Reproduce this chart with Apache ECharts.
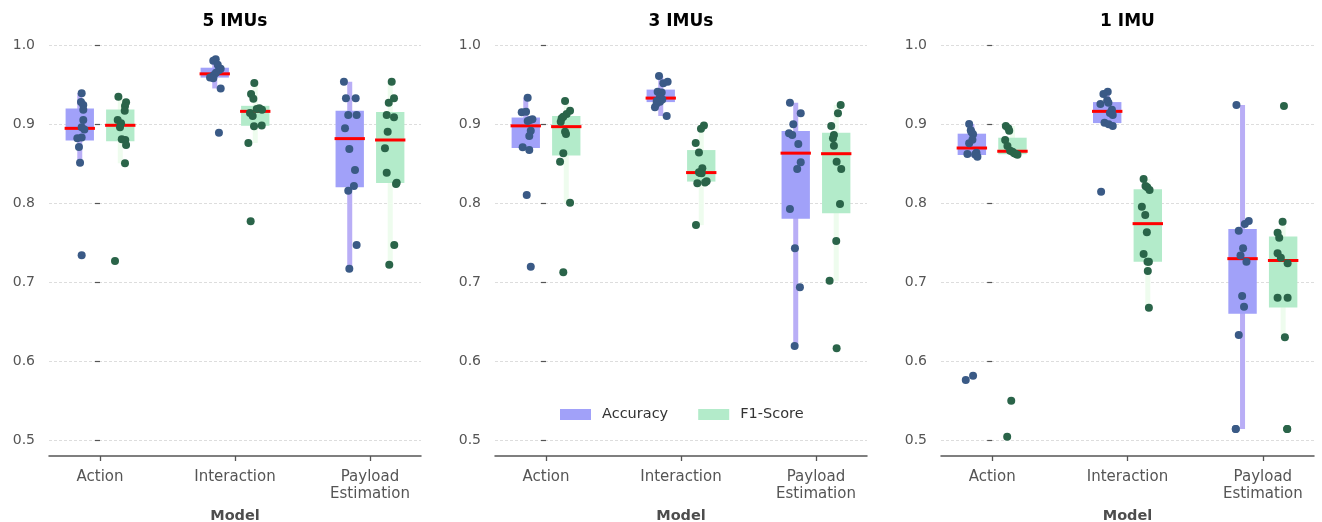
<!DOCTYPE html>
<html>
<head>
<meta charset="utf-8">
<script src="https://cdn.jsdelivr.net/npm/echarts@6/dist/echarts.min.js"></script>
<style>html,body{margin:0;padding:0;background:#fff;}#c{width:1322px;height:522px;}</style>
</head>
<body>
<div id="c"></div>
<script>
// ---------- data ----------
const CATEGORIES = ['Action', 'Interaction', 'Payload\nEstimation'];
const PANELS = ['5 IMUs', '3 IMUs', '1 IMU'];
const METRICS = ['Accuracy', 'F1-Score'];
const Y_TICKS = [0.5, 0.6, 0.7, 0.8, 0.9, 1.0];

// values per category: [Action, Interaction, Payload Estimation]
const acc5 = [
  [0.939, 0.928, 0.924, 0.918, 0.905, 0.896, 0.893, 0.882, 0.883, 0.871, 0.851, 0.734],
  [0.982, 0.980, 0.975, 0.970, 0.968, 0.965, 0.962, 0.960, 0.959, 0.958, 0.945, 0.889],
  [0.9536, 0.9325, 0.9325, 0.9114, 0.9114, 0.8946, 0.8684, 0.8418, 0.8215, 0.8156, 0.7468, 0.7168]
];
const f1_5 = [
  [0.9346, 0.9275, 0.9228, 0.9169, 0.905, 0.9009, 0.8958, 0.8806, 0.8797, 0.8734, 0.8503, 0.7266],
  [0.952, 0.938, 0.932, 0.920, 0.919, 0.918, 0.914, 0.910, 0.898, 0.897, 0.876, 0.777],
  [0.9536, 0.9325, 0.927, 0.9114, 0.9085, 0.8903, 0.8692, 0.8384, 0.8257, 0.8241, 0.7468, 0.7219]
];
const acc3 = [
  [0.9333, 0.9148, 0.9156, 0.905, 0.906, 0.9038, 0.8915, 0.8848, 0.8705, 0.8671, 0.8101, 0.7194],
  [0.9608, 0.9515, 0.9536, 0.9409, 0.940, 0.9346, 0.9283, 0.926, 0.9211, 0.9101, 0.931, 0.929],
  [0.927, 0.9135, 0.8996, 0.8882, 0.8861, 0.8747, 0.8515, 0.843, 0.7924, 0.7427, 0.6933, 0.619]
];
const f1_3 = [
  [0.9291, 0.9169, 0.9127, 0.9072, 0.903, 0.8903, 0.8873, 0.8629, 0.8523, 0.8004, 0.7123, 0.9093],
  [0.898, 0.894, 0.876, 0.864, 0.844, 0.839, 0.838, 0.8376, 0.8275, 0.826, 0.825, 0.772],
  [0.924, 0.9135, 0.8975, 0.8861, 0.8819, 0.8725, 0.8523, 0.843, 0.7987, 0.7519, 0.7017, 0.616]
];
const acc1 = [
  [0.900, 0.892, 0.890, 0.887, 0.880, 0.8755, 0.8637, 0.862, 0.8615, 0.8585, 0.5814, 0.576],
  [0.9409, 0.938, 0.930, 0.927, 0.9253, 0.918, 0.914, 0.9114, 0.9017, 0.8996, 0.8975, 0.8143],
  [0.924, 0.7772, 0.7734, 0.765, 0.7427, 0.7334, 0.7257, 0.6823, 0.6688, 0.6329, 0.5139, 0.5139]
];
const f1_1 = [
  [0.8975, 0.8946, 0.8915, 0.8797, 0.872, 0.866, 0.865, 0.863, 0.862, 0.861, 0.5498, 0.5042],
  [0.8304, 0.8215, 0.8199, 0.8165, 0.7954, 0.7848, 0.7629, 0.7354, 0.7257, 0.7257, 0.7139, 0.6675],
  [0.9228, 0.7763, 0.7624, 0.756, 0.7363, 0.7308, 0.7237, 0.6801, 0.6801, 0.63, 0.5139, 0.5139]
];

// strip-plot jitter (category units, relative to category centre)
const jAcc5 = [
  [-0.136, -0.141, -0.124, -0.124, -0.124, -0.136, -0.116, -0.168, -0.136, -0.156, -0.148, -0.136],
  [-0.143, -0.161, -0.128, -0.106, -0.119, -0.141, -0.156, -0.165, -0.185, -0.161, -0.106, -0.119],
  [-0.193, -0.178, -0.106, -0.161, -0.099, -0.185, -0.153, -0.111, -0.119, -0.161, -0.099, -0.153]
];
const jF1_5 = [
  [0.136, 0.193, 0.185, 0.183, 0.131, 0.156, 0.148, 0.161, 0.187, 0.193, 0.185, 0.111],
  [0.143, 0.119, 0.136, 0.180, 0.161, 0.200, 0.111, 0.131, 0.198, 0.141, 0.099, 0.116],
  [0.161, 0.178, 0.139, 0.124, 0.178, 0.131, 0.111, 0.124, 0.198, 0.193, 0.180, 0.143]
];
const jAcc3 = [
  [-0.136, -0.180, -0.148, -0.119, -0.101, -0.136, -0.113, -0.124, -0.173, -0.124, -0.143, -0.113],
  [-0.163, -0.131, -0.099, -0.173, -0.143, -0.156, -0.156, -0.180, -0.193, -0.106, -0.139, -0.180],
  [-0.193, -0.113, -0.168, -0.200, -0.176, -0.131, -0.113, -0.139, -0.193, -0.156, -0.119, -0.158]
];
const jF1_3 = [
  [0.141, 0.178, 0.153, 0.116, 0.109, 0.141, 0.148, 0.128, 0.104, 0.178, 0.128, 0.128],
  [0.170, 0.148, 0.109, 0.133, 0.158, 0.133, 0.141, 0.153, 0.190, 0.178, 0.121, 0.111],
  [0.183, 0.163, 0.113, 0.133, 0.126, 0.133, 0.153, 0.187, 0.178, 0.150, 0.101, 0.153]
];
const jAcc1 = [
  [-0.170, -0.158, -0.153, -0.141, -0.146, -0.170, -0.116, -0.183, -0.126, -0.109, -0.141, -0.195],
  [-0.146, -0.178, -0.150, -0.141, -0.200, -0.115, -0.130, -0.109, -0.170, -0.139, -0.109, -0.195],
  [-0.195, -0.104, -0.133, -0.178, -0.146, -0.165, -0.121, -0.153, -0.139, -0.178, -0.200, -0.200]
];
const jF1_1 = [
  [0.101, 0.119, 0.126, 0.096, 0.113, 0.133, 0.150, 0.163, 0.176, 0.187, 0.141, 0.111],
  [0.119, 0.133, 0.146, 0.163, 0.106, 0.131, 0.143, 0.119, 0.158, 0.148, 0.150, 0.158],
  [0.156, 0.146, 0.109, 0.121, 0.109, 0.133, 0.183, 0.109, 0.183, 0.163, 0.180, 0.180]
];

const PANEL_VALUES = [[acc5, f1_5], [acc3, f1_3], [acc1, f1_1]];
const PANEL_JITTER = [[jAcc5, jF1_5], [jAcc3, jF1_3], [jAcc1, jF1_1]];

// ---------- styles ----------
const FONT = 'DejaVu Sans';
const BOX_COLORS = ['#a1a1f9', '#b3ebca'];
const WHISKER_COLORS = ['#b9aef6', '#eefcee'];
const POINT_COLORS = ['#3a5a86', '#2a6449'];
const MEDIAN_COLOR = '#ff0000';
const HUE_OFFSET = 0.15;
const BOX_HALF = 0.105;
const GRIDS = [
  {left: 49, top: 45, width: 372, height: 395},
  {left: 495, top: 45, width: 372, height: 395},
  {left: 941, top: 45, width: 373, height: 395}
];

// ---------- stats ----------
function quantile(s, p) {
  const pos = (s.length - 1) * p, lo = Math.floor(pos), hi = Math.ceil(pos);
  return s[lo] + (s[hi] - s[lo]) * (pos - lo);
}
function boxStats(vals) {
  const s = vals.slice().sort((a, b) => a - b);
  const q1 = quantile(s, 0.25), med = quantile(s, 0.5), q3 = quantile(s, 0.75);
  const iqr = q3 - q1;
  const lo = s.filter(v => v >= q1 - 1.5 * iqr)[0];
  const inHi = s.filter(v => v <= q3 + 1.5 * iqr);
  const hi = inHi[inHi.length - 1];
  return [lo, q1, med, q3, hi];
}

function makeRender(hue) {
  return function (params, api) {
    const cat = api.value(0);
    const lo = api.value(2), q1 = api.value(3), med = api.value(4), q3 = api.value(5), hi = api.value(6);
    const cx = cat + (hue ? HUE_OFFSET : -HUE_OFFSET);
    const tl = api.coord([cx - BOX_HALF, q3]);
    const br = api.coord([cx + BOX_HALF, q1]);
    const wTop = api.coord([cx, hi]);
    const wBot = api.coord([cx, lo]);
    const m = api.coord([cx, med]);
    return {
      type: 'group',
      children: [
        {type: 'rect', shape: {x: wTop[0] - 2.5, y: wTop[1], width: 5, height: wBot[1] - wTop[1]},
         style: {fill: WHISKER_COLORS[hue]}},
        {type: 'rect', shape: {x: tl[0], y: tl[1], width: br[0] - tl[0], height: br[1] - tl[1]},
         style: {fill: BOX_COLORS[hue]}},
        {type: 'line', shape: {x1: tl[0] - 1, y1: m[1], x2: br[0] + 1, y2: m[1]},
         style: {stroke: MEDIAN_COLOR, lineWidth: 3}}
      ]
    };
  };
}

const xAxes = [], yAxes = [], series = [], titles = [];
PANELS.forEach((title, p) => {
  const g = GRIDS[p];
  titles.push({
    text: title, left: g.left + g.width / 2, top: 13, textAlign: 'center', padding: 0,
    textStyle: {fontFamily: FONT, fontSize: 17, fontWeight: 'bold', color: '#000'}
  });
  titles.push({
    text: 'Model', left: g.left + g.width / 2, top: 509, textAlign: 'center', padding: 0,
    textStyle: {fontFamily: FONT, fontSize: 14.5, fontWeight: 'bold', color: '#4d4d4d'}
  });
  xAxes.push({
    type: 'value', gridIndex: p, min: -0.378, max: 2.378, offset: 16,
    axisLine: {show: true, lineStyle: {color: '#555555', width: 1.5}},
    axisTick: {show: true, customValues: [0, 1, 2], length: 5, lineStyle: {color: '#555555', width: 1.3}},
    axisLabel: {
      show: true, customValues: [0, 1, 2], margin: 13,
      formatter: v => CATEGORIES[Math.round(v)],
      fontFamily: FONT, fontSize: 15, color: '#555555', lineHeight: 17
    },
    splitLine: {show: false}
  });
  yAxes.push({
    type: 'value', gridIndex: p, min: 0.5, max: 1.0, interval: 0.1, offset: 1,
    axisLine: {show: false},
    axisTick: {show: true, length: 5, lineStyle: {color: '#555555', width: 1.2}},
    axisLabel: {
      margin: 13, formatter: v => v.toFixed(1),
      fontFamily: FONT, fontSize: 14, color: '#555555'
    },
    splitLine: {show: true, lineStyle: {color: '#d4d4d4', type: [3, 2], width: 0.8}}
  });
  [0, 1].forEach(hue => {
    const vals = PANEL_VALUES[p][hue];
    const boxData = vals.map((v, c) => [c, hue].concat(boxStats(v)));
    series.push({
      type: 'custom', name: METRICS[hue], xAxisIndex: p, yAxisIndex: p,
      renderItem: makeRender(hue), data: boxData,
      encode: {x: 0, y: [2, 3, 4, 5, 6]}, silent: true, z: 2,
      itemStyle: {color: BOX_COLORS[hue]}
    });
  });
  [0, 1].forEach(hue => {
    const vals = PANEL_VALUES[p][hue];
    const jit = PANEL_JITTER[p][hue];
    const pts = [];
    vals.forEach((arr, c) => arr.forEach((v, i) => pts.push([c + jit[c][i], v])));
    series.push({
      type: 'scatter', name: METRICS[hue] + ' points', xAxisIndex: p, yAxisIndex: p,
      data: pts, symbol: 'circle', symbolSize: 8, silent: true, z: 5,
      itemStyle: {color: POINT_COLORS[hue], opacity: 1},
      emphasis: {disabled: true}
    });
  });
});

const chart = echarts.init(document.getElementById('c'), null, {renderer: 'canvas'});
chart.setOption({
  animation: false,
  backgroundColor: '#ffffff',
  textStyle: {fontFamily: FONT},
  title: titles,
  grid: GRIDS,
  xAxis: xAxes,
  yAxis: yAxes,
  legend: {
    left: 560, top: 407, orient: 'horizontal', itemWidth: 31, itemHeight: 11, itemGap: 30,
    icon: 'rect', selectedMode: false, padding: 0,
    data: [
      {name: 'Accuracy', itemStyle: {color: BOX_COLORS[0]}},
      {name: 'F1-Score', itemStyle: {color: BOX_COLORS[1]}}
    ],
    textStyle: {fontFamily: FONT, fontSize: 14.5, color: '#333333', padding: [0, 0, 0, 6]}
  },
  series: series
});
</script>
</body>
</html>
